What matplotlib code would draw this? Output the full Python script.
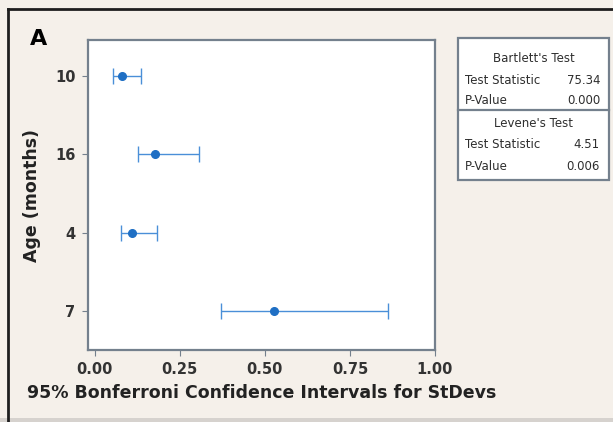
import matplotlib
matplotlib.use("Agg")
import matplotlib.pyplot as plt
from matplotlib.patches import Rectangle

# data
ages = ["10", "16", "4", "7"]
stdev = [0.081, 0.178, 0.109, 0.526]
lower = [0.054, 0.127, 0.078, 0.370]
upper = [0.136, 0.307, 0.182, 0.862]
xticks = [0.00, 0.25, 0.50, 0.75, 1.00]

bartlett = [("Test Statistic", "75.34"), ("P-Value", "0.000")]
levene = [("Test Statistic", "4.51"), ("P-Value", "0.006")]

bg = "#f5f0ea"
blue = "#1f6fc4"
frame = "#74808d"
W, H = 613, 422

fig = plt.figure(figsize=(6.13, 4.22), dpi=100, facecolor=bg)
ax = fig.add_axes([88 / W, 1 - 350 / H, (435 - 88) / W, (350 - 40) / H])
ax.set_facecolor("white")

ypos = list(range(len(ages)))
xerr = [[s - l for s, l in zip(stdev, lower)], [u - s for s, u in zip(stdev, upper)]]
ax.errorbar(stdev, ypos, xerr=xerr, fmt="o", color=blue, ms=5.5, elinewidth=1.0,
            ecolor="#4a8fd8", capsize=6, capthick=1.0)

ax.set_ylim(3.5, -0.46)
ax.set_xlim(-0.02, 1.0)
ax.set_yticks(ypos)
ax.set_yticklabels(ages)
ax.set_xticks(xticks)
ax.set_xticklabels(["%.2f" % t for t in xticks])
for lab in ax.get_xticklabels() + ax.get_yticklabels():
    lab.set_fontweight("bold")
    lab.set_fontsize(10.5)
    lab.set_color("#333333")
ax.tick_params(color=frame, length=4, pad=5)
for sp in ax.spines.values():
    sp.set_color(frame)
    sp.set_linewidth(1.6)

ax.set_ylabel("Age (months)", fontsize=12.5, fontweight="bold", color="#222222", labelpad=10)
ax.set_xlabel("95% Bonferroni Confidence Intervals for StDevs", fontsize=12.5,
              fontweight="bold", color="#222222", labelpad=5)

fig.text(39 / W, 1 - 39 / H, "A", fontsize=16, fontweight="bold", ha="center", va="center")

# statistics box
bx0, bx1 = 458 / W, 609 / W
by_top, by_mid, by_bot = 1 - 38 / H, 1 - 110 / H, 1 - 180 / H
fig.patches.append(Rectangle((bx0, by_bot), bx1 - bx0, by_top - by_bot, transform=fig.transFigure,
                             facecolor="white", edgecolor=frame, linewidth=1.6))
fig.lines.append(plt.Line2D([bx0, bx1], [by_mid, by_mid], transform=fig.transFigure,
                            color=frame, linewidth=1.6))


def stat_block(title, rows, ys):
    fig.text((bx0 + bx1) / 2, 1 - ys[0] / H, title, ha="center", va="center",
             fontsize=8.5, color="#2e2e2e")
    for (k, v), y in zip(rows, ys[1:]):
        fig.text(bx0 + 7 / W, 1 - y / H, k, ha="left", va="center", fontsize=8.5, color="#2e2e2e")
        fig.text(bx1 - 9 / W, 1 - y / H, v, ha="right", va="center", fontsize=8.5, color="#2e2e2e")


stat_block("Bartlett's Test", bartlett, [58, 80, 100])
stat_block("Levene's Test", levene, [124, 145, 167])

# dark border on top and left, grey strip at the bottom
fig.lines.append(plt.Line2D([7.5 / W, 7.5 / W], [0, 1 - 9 / H], transform=fig.transFigure,
                            color="#1e1e1e", linewidth=2))
fig.lines.append(plt.Line2D([7.5 / W, 1], [1 - 9 / H, 1 - 9 / H], transform=fig.transFigure,
                            color="#1e1e1e", linewidth=2))
fig.patches.append(Rectangle((0, 0), 1, 4 / H, transform=fig.transFigure,
                             facecolor="#d6d2ce", edgecolor="none"))

fig.savefig("out.png", dpi=100, facecolor=bg)
